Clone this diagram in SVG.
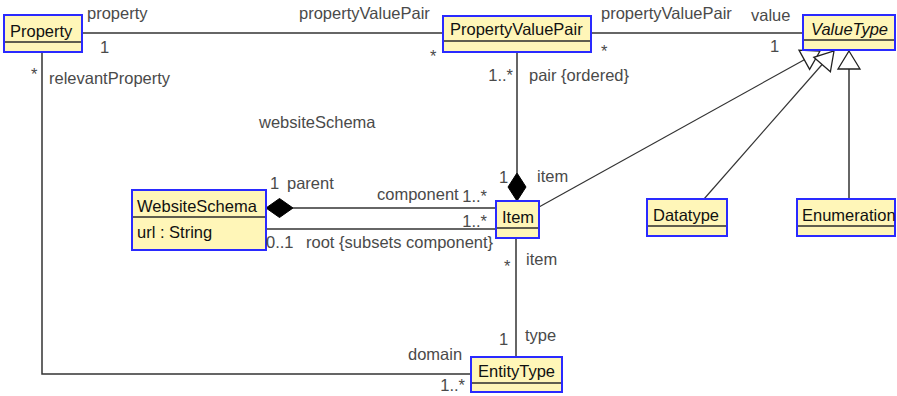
<svg xmlns="http://www.w3.org/2000/svg" width="897" height="396" viewBox="0 0 897 396">
  <style>
    .box { fill: #fff6b8; stroke: #2a2aff; stroke-width: 2; }
    .sep { stroke: #2b2b2b; stroke-width: 1.5; }
    .name { font-family: "Liberation Sans", Arial, sans-serif; font-size: 16.5px; fill: #111; }
    .lbl { font-family: "Liberation Sans", Arial, sans-serif; font-size: 16.5px; fill: #4a4a4a; }
    .edge { fill: none; stroke: #333; stroke-width: 1.5; }
    .thin { fill: none; stroke: #333; stroke-width: 1.2; }
    .hollow { fill: #fff; stroke: #222; stroke-width: 1.3; }
    .solid { fill: #000; stroke: #000; stroke-width: 1; }
  </style>

  <!-- connectors -->
  <g id="connectors">
    <!-- Property - PropertyValuePair -->
    <line class="edge" x1="82" y1="33" x2="443" y2="33"/>
    <!-- PropertyValuePair - ValueType -->
    <line class="edge" x1="591" y1="33" x2="803" y2="33"/>
    <!-- Property - EntityType -->
    <polyline class="edge" points="42,52 42,374 471,374"/>
    <!-- PropertyValuePair - Item (composition) -->
    <line class="edge" x1="517" y1="52" x2="517" y2="173"/>
    <polygon class="solid" points="517,173 526,187 517,201 508,187"/>
    <!-- WebsiteSchema - Item (composition) -->
    <line class="edge" x1="293" y1="208" x2="496" y2="208"/>
    <polygon class="solid" points="266,208 279.5,198.5 293,208 279.5,217.5"/>
    <!-- WebsiteSchema - Item (root) -->
    <line class="edge" x1="266" y1="229" x2="496" y2="229"/>
    <!-- Item - EntityType -->
    <line class="edge" x1="516" y1="238" x2="516" y2="357"/>
    <!-- Item generalizes to ValueType -->
    <line class="thin" x1="539" y1="207" x2="804.3" y2="59.7"/>
    <polygon class="hollow" points="820,51 809.6,69.3 799,50.1"/>
    <!-- Datatype generalizes to ValueType -->
    <line class="thin" x1="704" y1="199" x2="822.1" y2="64.5"/>
    <polygon class="hollow" points="834,51 830.4,71.8 813.8,57.3"/>
    <!-- Enumeration generalizes to ValueType -->
    <line class="edge" x1="849" y1="199" x2="849" y2="69"/>
    <polygon class="hollow" points="849,51 860,69 838,69"/>
  </g>

  <!-- classes -->
  <g id="Property">
    <rect class="box" x="4" y="15" width="78" height="37"/>
    <line class="sep" x1="5" y1="42" x2="81" y2="42"/>
    <text class="name" x="10" y="37">Property</text>
  </g>
  <g id="PropertyValuePair">
    <rect class="box" x="443" y="16" width="148" height="36"/>
    <line class="sep" x1="444" y1="41" x2="590" y2="41"/>
    <text class="name" x="450" y="35">PropertyValuePair</text>
  </g>
  <g id="ValueType">
    <rect class="box" x="803" y="15" width="92" height="35"/>
    <line class="sep" x1="804" y1="40" x2="894" y2="40"/>
    <text class="name" x="811" y="35" font-style="italic">ValueType</text>
  </g>
  <g id="WebsiteSchema">
    <rect class="box" x="132" y="190" width="134" height="60"/>
    <line class="sep" x1="133" y1="217" x2="265" y2="217"/>
    <text class="name" x="137" y="212">WebsiteSchema</text>
    <text class="name" x="137" y="238">url : String</text>
  </g>
  <g id="Item">
    <rect class="box" x="496" y="201" width="43" height="37"/>
    <line class="sep" x1="497" y1="228" x2="538" y2="228"/>
    <text class="name" x="502" y="223">Item</text>
  </g>
  <g id="Datatype">
    <rect class="box" x="647" y="199" width="80" height="37"/>
    <line class="sep" x1="648" y1="226" x2="726" y2="226"/>
    <text class="name" x="653" y="221">Datatype</text>
  </g>
  <g id="Enumeration">
    <rect class="box" x="797" y="199" width="98" height="37"/>
    <line class="sep" x1="798" y1="226" x2="894" y2="226"/>
    <text class="name" x="802" y="221" font-size="16px">Enumeration</text>
  </g>
  <g id="EntityType">
    <rect class="box" x="471" y="357" width="91" height="35"/>
    <line class="sep" x1="472" y1="383" x2="561" y2="383"/>
    <text class="name" x="478" y="377">EntityType</text>
  </g>

  <!-- association end labels -->
  <g id="labels">
    <text class="lbl" x="87" y="19">property</text>
    <text class="lbl" x="100" y="53">1</text>
    <text class="lbl" x="31" y="80">*</text>
    <text class="lbl" x="49" y="84">relevantProperty</text>
    <text class="lbl" x="299" y="19">propertyValuePair</text>
    <text class="lbl" x="430" y="62">*</text>
    <text class="lbl" x="601" y="19">propertyValuePair</text>
    <text class="lbl" x="601" y="57">*</text>
    <text class="lbl" x="751" y="21">value</text>
    <text class="lbl" x="770" y="52">1</text>
    <text class="lbl" x="513" y="81" text-anchor="end">1..*</text>
    <text class="lbl" x="529" y="81">pair {ordered}</text>
    <text class="lbl" x="259" y="128">websiteSchema</text>
    <text class="lbl" x="270" y="189">1</text>
    <text class="lbl" x="287" y="189">parent</text>
    <text class="lbl" x="377" y="200">component</text>
    <text class="lbl" x="487" y="202" text-anchor="end">1..*</text>
    <text class="lbl" x="487" y="227" text-anchor="end">1..*</text>
    <text class="lbl" x="266" y="248">0..1</text>
    <text class="lbl" x="306" y="248">root {subsets component}</text>
    <text class="lbl" x="499" y="183">1</text>
    <text class="lbl" x="537" y="182">item</text>
    <text class="lbl" x="504" y="272">*</text>
    <text class="lbl" x="526" y="265">item</text>
    <text class="lbl" x="499" y="345">1</text>
    <text class="lbl" x="525" y="341">type</text>
    <text class="lbl" x="408" y="360">domain</text>
    <text class="lbl" x="465" y="391" text-anchor="end">1..*</text>
  </g>
</svg>
